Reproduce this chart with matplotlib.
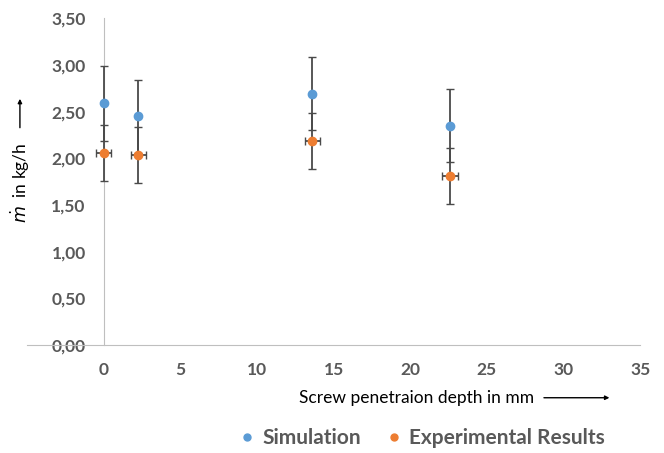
import matplotlib
matplotlib.use('Agg')
import matplotlib.pyplot as plt
from matplotlib.lines import Line2D

plt.rcParams['font.family'] = ['Lato', 'DejaVu Sans']

# screw penetration depth (mm)
depth = [0, 2.25, 13.6, 22.6]
sim = [2.59, 2.45, 2.69, 2.35]
sim_err = [0.40, 0.39, 0.39, 0.39]
exp = [2.06, 2.04, 2.19, 1.81]
exp_err = [0.30, 0.30, 0.30, 0.30]
exp_xerr = [0.5, 0.5, 0.5, 0.5]
yticks = [0, 0.5, 1.0, 1.5, 2.0, 2.5, 3.0, 3.5]
xticks = [0, 5, 10, 15, 20, 25, 30, 35]

blue = '#5B9BD5'
orange = '#ED7D31'
grey = '#595959'

fig = plt.figure(figsize=(6.64, 4.53), dpi=100)
ax = fig.add_axes([0.041, 0.238, 0.923, 0.722])

ax.errorbar(depth, sim, yerr=sim_err, fmt='o', color=blue, ms=6,
            ecolor='#4a4a4a', elinewidth=1.3, capsize=3, capthick=1, zorder=3)
ax.errorbar(depth, exp, yerr=exp_err, xerr=exp_xerr, fmt='o', color=orange, ms=6,
            ecolor='#4a4a4a', elinewidth=1.3, capsize=3, capthick=1, zorder=4)

ax.set_xlim(-5, 35)
ax.set_ylim(0, 3.5)
ax.set_xticks(xticks)
ax.set_xticklabels([str(t) for t in xticks])
ax.set_yticks(yticks)
ax.set_yticklabels([('%.2f' % t).replace('.', ',') for t in yticks])

for s in ['top', 'right']:
    ax.spines[s].set_visible(False)
ax.spines['left'].set_position(('data', 0))
ax.spines['left'].set_color('#bfbfbf')
ax.spines['bottom'].set_color('#bfbfbf')
ax.tick_params(length=0, labelsize=12.5, labelcolor=grey)
ax.tick_params(axis='y', pad=13)
ax.tick_params(axis='x', pad=12)
for lab in ax.get_xticklabels() + ax.get_yticklabels():
    lab.set_fontweight('bold')

# axis titles with arrows
fig.text(0.03, 0.596, r'$\dot{m}$  in kg/h', rotation=90, ha='center', va='center',
         fontsize=12.5, color='black')
ax.annotate('', xy=(0.03, 0.788), xytext=(0.03, 0.712), xycoords='figure fraction',
            arrowprops=dict(arrowstyle='-|>', color='black', lw=1, mutation_scale=6))
fig.text(0.628, 0.122, 'Screw penetraion depth in mm', ha='center', va='center',
         fontsize=12.5, color='black')
ax.annotate('', xy=(0.922, 0.122), xytext=(0.815, 0.122), xycoords='figure fraction',
            arrowprops=dict(arrowstyle='-|>', color='black', lw=1, mutation_scale=6))

handles = [Line2D([], [], marker='o', ls='', color=blue, ms=5),
           Line2D([], [], marker='o', ls='', color=orange, ms=5)]
leg = fig.legend(handles, ['Simulation', 'Experimental Results'], loc='lower center',
                 bbox_to_anchor=(0.632, -0.03), ncol=2, frameon=False,
                 handletextpad=0.1, columnspacing=1.0, handlelength=1.2,
                 prop={'weight': 'bold', 'size': 15})
for t in leg.get_texts():
    t.set_color(grey)

fig.savefig('out.png', dpi=100)
